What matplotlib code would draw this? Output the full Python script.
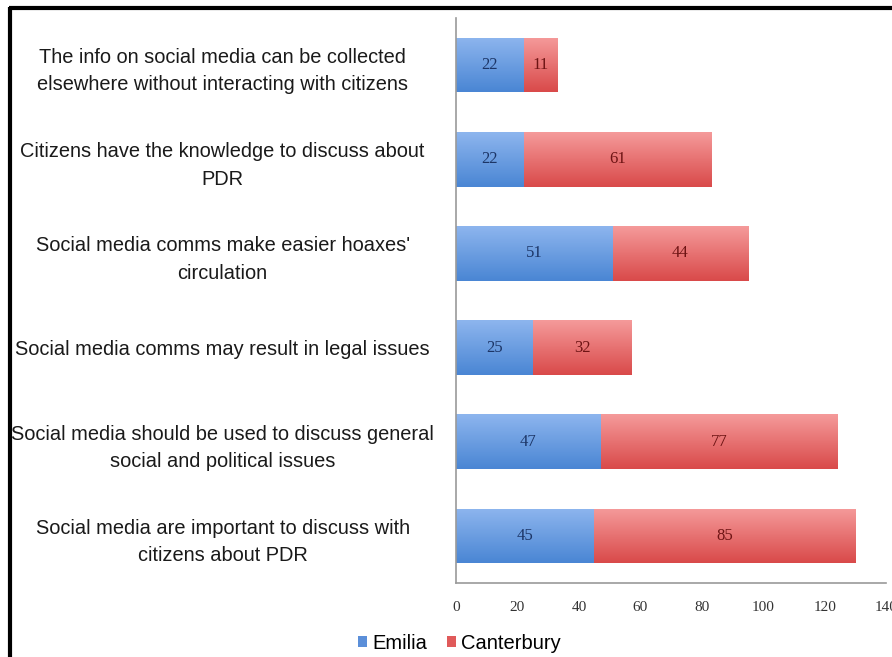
import matplotlib
matplotlib.use('Agg')
import matplotlib.pyplot as plt
import numpy as np
from matplotlib.colors import LinearSegmentedColormap
from matplotlib.patches import Patch
from matplotlib.lines import Line2D

statements = [
    "The info on social media can be collected\nelsewhere without interacting with citizens",
    "Citizens have the knowledge to discuss about\nPDR",
    "Social media comms make easier hoaxes'\ncirculation",
    "Social media comms may result in legal issues",
    "Social media should be used to discuss general\nsocial and political issues",
    "Social media are important to discuss with\ncitizens about PDR",
]
emilia = [22, 22, 51, 25, 47, 45]
canterbury = [11, 61, 44, 32, 77, 85]
xticks = [0, 20, 40, 60, 80, 100, 120, 140]

BLUE_TOP, BLUE_BOT = "#8db5ee", "#4a86d4"
RED_TOP, RED_BOT = "#f59a9a", "#d94a4a"
BLUE_TXT, RED_TXT = "#1c3566", "#6e1414"


def shade(ax, bars, top, bot):
    # vertical gradient clipped to each bar rectangle
    cmap = LinearSegmentedColormap.from_list("g", [top, bot])
    grad = np.linspace(0, 1, 64).reshape(-1, 1)
    for b in bars:
        x0, y0 = b.get_x(), b.get_y()
        w, h = b.get_width(), b.get_height()
        im = ax.imshow(grad, cmap=cmap, aspect="auto", interpolation="bicubic",
                       extent=(x0, x0 + w, y0 + h, y0), zorder=2)
        im.set_clip_path(b)


fig = plt.figure(figsize=(8.92, 6.57), dpi=100)
ax = fig.add_axes([0.5112, 0.1126, 0.4826, 0.86])

y = np.arange(len(statements))
h = 0.58
b1 = ax.barh(y, emilia, height=h, color=BLUE_BOT, zorder=1)
b2 = ax.barh(y, canterbury, left=emilia, height=h, color=RED_BOT, zorder=1)
shade(ax, b1, BLUE_TOP, BLUE_BOT)
shade(ax, b2, RED_TOP, RED_BOT)

for i in range(len(statements)):
    ax.text(emilia[i] / 2, y[i], str(emilia[i]), ha="center", va="center",
            family="Liberation Serif", fontsize=12, color=BLUE_TXT, zorder=3)
    ax.text(emilia[i] + canterbury[i] / 2, y[i], str(canterbury[i]), ha="center",
            va="center", family="Liberation Serif", fontsize=12, color=RED_TXT, zorder=3)

ax.set_xlim(0, 140)
ax.set_ylim(len(statements) - 0.5, -0.5)
ax.set_xticks(xticks)
ax.set_xticklabels([str(t) for t in xticks], family="Liberation Serif", fontsize=11, color="#333333")
ax.set_yticks(y)
ax.set_yticklabels(statements, family="Liberation Sans", fontsize=14.4, color="#1a1a1a",
                   ha="center", multialignment="center", linespacing=1.55)
ax.tick_params(axis="y", length=0, pad=168)
ax.tick_params(axis="x", length=0, pad=13)
for s in ["top", "right"]:
    ax.spines[s].set_visible(False)
for s in ["left", "bottom"]:
    ax.spines[s].set_color("#9a9a9a")
    ax.spines[s].set_linewidth(1.2)

handles = [Patch(facecolor="#5b8fd9", label="Emilia"),
           Patch(facecolor="#e05a5a", label="Canterbury")]
fig.legend(handles=handles, loc="center", bbox_to_anchor=(0.515, 0.021), ncol=2,
           frameon=False, prop={"family": "Liberation Sans", "size": 14.5},
           handlelength=0.45, handleheight=0.45, handletextpad=0.25, columnspacing=1.0)

# black frame on the left and top edges
fig.add_artist(Line2D([0.0112, 0.0112], [0, 0.99], transform=fig.transFigure,
                      color="black", linewidth=3, solid_capstyle="butt"))
fig.add_artist(Line2D([0.0101, 1.0], [0.9885, 0.9885], transform=fig.transFigure,
                      color="black", linewidth=3, solid_capstyle="butt"))

fig.savefig("out.png", dpi=100)
